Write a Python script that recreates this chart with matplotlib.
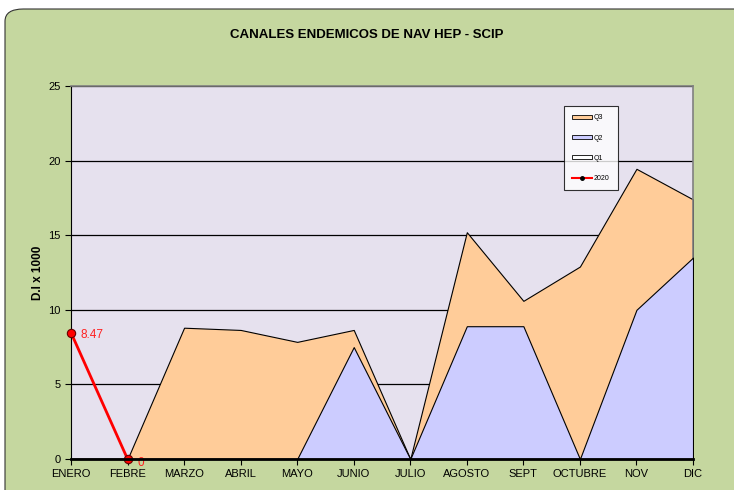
import matplotlib
matplotlib.use("Agg")
import matplotlib.pyplot as plt
from matplotlib.patches import FancyBboxPatch
from matplotlib.lines import Line2D
from matplotlib.patches import Patch

plt.rcParams['font.family'] = ['Liberation Sans Narrow', 'Liberation Sans', 'DejaVu Sans']

#-----------Data------------
months = ["ENERO", "FEBRE", "MARZO", "ABRIL", "MAYO", "JUNIO", "JULIO",
          "AGOSTO", "SEPT", "OCTUBRE", "NOV", "DIC"]
q3 = [0, 0, 8.8, 8.65, 7.85, 8.65, 0, 15.2, 10.6, 12.9, 19.45, 17.4]
q2 = [0, 0, 0, 0, 0, 7.5, 0, 8.9, 8.9, 0, 10.0, 13.5]
q1 = [0, 0, 0, 0, 0, 0, 0, 0, 0, 0, 0, 0]
cases_2020 = [8.47, 0]

#-----------Plot------------
fig = plt.figure(figsize=(7.34, 4.9), dpi=100)
fig.patch.set_facecolor("white")

# rounded green chart area
frame = FancyBboxPatch((5 / 734, -0.05), 1.05, 1.05 - 9 / 490,
                       boxstyle="round,pad=0,rounding_size=0.025",
                       transform=fig.transFigure, facecolor="#C5D79F",
                       edgecolor="#333333", linewidth=0.8, zorder=-5)
fig.patches.append(frame)

ax = fig.add_axes([71 / 734, 31 / 490, 622 / 734, 373 / 490])
ax.set_zorder(2)
ax.set_facecolor("#E6E1EE")

x = list(range(len(months)))
ax.fill_between(x, 0, q3, facecolor="#FFCC99", edgecolor="black", linewidth=0.8, zorder=2)
ax.fill_between(x, 0, q2, facecolor="#CCCCFF", edgecolor="black", linewidth=0.8, zorder=3)
ax.fill_between(x, 0, q1, facecolor="white", edgecolor="black", linewidth=0.8, zorder=4)

ax.plot(x[:len(cases_2020)], cases_2020, color="red", linewidth=2, marker="o",
        markersize=6, markerfacecolor="red", markeredgecolor="#660000",
        markeredgewidth=0.8, zorder=6, clip_on=False)
for xi, v in zip(x, cases_2020):
    ax.annotate(f"{v:g}", (xi, v), xytext=(7, -4 if v > 0 else -5),
                textcoords="offset points", color="#FF2020", fontsize=8.5,
                zorder=7, annotation_clip=False)

ax.set_xlim(0, len(months) - 1)
ax.set_ylim(0, 25)
ax.set_yticks([0, 5, 10, 15, 20, 25])
ax.set_xticks(x)
ax.set_xticklabels(months)
ax.tick_params(labelsize=8, length=4, width=0.8, color="black")
ax.grid(axis="y", color="black", linewidth=0.9, zorder=1)
ax.set_axisbelow(True)

for side in ["top", "right"]:
    ax.spines[side].set_color("#808080")
    ax.spines[side].set_linewidth(1.2)
ax.spines["left"].set_color("black")
ax.spines["bottom"].set_color("black")
ax.spines["bottom"].set_linewidth(2)
ax.spines["bottom"].set_zorder(8)

ax.set_ylabel("D.I x 1000", fontsize=8.5, fontweight="bold", labelpad=3)
fig.text(0.5, 1 - 35 / 490, "CANALES ENDEMICOS DE NAV HEP - SCIP",
         ha="center", va="center", fontsize=9.5, fontweight="bold")

handles = [Patch(facecolor="#FFCC99", edgecolor="black", linewidth=0.6),
           Patch(facecolor="#CCCCFF", edgecolor="black", linewidth=0.6),
           Patch(facecolor="white", edgecolor="black", linewidth=0.6),
           Line2D([], [], color="red", linewidth=1.5, marker="o", markersize=2.5,
                  markerfacecolor="black", markeredgecolor="black")]
leg = ax.legend(handles, ["Q3", "Q2", "Q1", "2020"], loc="upper left",
                bbox_to_anchor=((564 - 71) / 622, (459 - 106) / 373),
                fontsize=5, frameon=True, fancybox=False, edgecolor="black",
                handlelength=2.9, handleheight=0.55, labelspacing=1.9,
                borderpad=1.2, handletextpad=0.2, borderaxespad=0)
leg.get_frame().set_linewidth(0.8)
leg.set_zorder(10)

fig.savefig("out.png", dpi=100)
